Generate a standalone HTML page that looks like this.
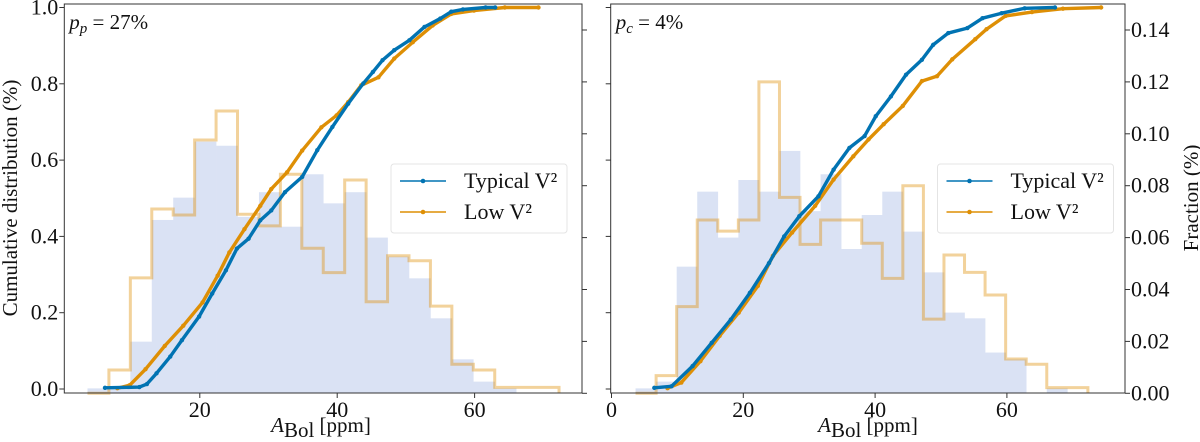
<!DOCTYPE html>
<html><head><meta charset="utf-8">
<style>
body{margin:0;background:#fff;}
svg{display:block;}
svg text{font-family:"Liberation Serif","DejaVu Serif","Times New Roman",serif;}
</style></head>
<body>
<svg id="chart" width="1200" height="442" viewBox="0 0 1200 442"></svg>
<script>
const binStart = 3.65;
const binWidth = 3.12;
const leftTypicalHist = [0.0019,0.0019,0.0199,0.0668,0.0754,0.097,0.0954,0.068,0.0775,0.0642,0.0844,0.0732,0.0775,0.060,0.0527,0.0443,0.0289,0.0131,0.0045,0.0019,0,0];
const leftLowHist = [0,0.009,0.0445,0.071,0.0687,0.0976,0.1088,0.069,0.0645,0.0844,0.0559,0.0465,0.0822,0.0353,0.053,0.0511,0.0336,0.0112,0.009,0.0023,0.0023,0.0023];
const rightTypicalHist = [0.0019,0.0045,0.0488,0.0777,0.060,0.0822,0.0777,0.0934,0.0702,0.0844,0.0556,0.0687,0.0777,0.0623,0.0466,0.0311,0.0289,0.0157,0.0131,0,0.0019,0];
const rightLowHist = [0,0.0068,0.0334,0.0668,0.0625,0.0668,0.120,0.0755,0.0574,0.0668,0.0668,0.0578,0.0443,0.080,0.0286,0.0533,0.0466,0.0379,0.0132,0.0112,0.0022,0.0022];

const leftTypicalX = [6.2,11.2,12.3,13.7,15.7,17.4,19.9,21.8,23.8,25.4,27.1,28.8,30.4,32.4,34.9,37.1,39.3,41.6,43.8,45.2,46.6,48.3,50.5,52.7,55.0,56.6,58.3,61.6,63.0];
const leftTypicalY = [0.003,0.005,0.013,0.041,0.085,0.128,0.19,0.25,0.311,0.368,0.394,0.442,0.468,0.516,0.556,0.626,0.687,0.748,0.801,0.831,0.862,0.888,0.914,0.949,0.971,0.989,0.995,1.0,1.0];
const leftLowX = [8.0,9.8,12.1,14.9,17.6,20.4,22.6,24.3,26.5,28.8,30.4,32.7,34.9,37.7,39.9,41.6,43.5,46.0,48.3,51.0,53.9,56.6,59.9,64.4,69.3];
const leftLowY = [0.002,0.01,0.052,0.113,0.166,0.227,0.297,0.358,0.419,0.48,0.524,0.568,0.625,0.686,0.717,0.752,0.796,0.817,0.866,0.909,0.953,0.983,0.992,1.0,1.0];
const rightTypicalX = [6.5,9.1,12.3,15.2,18.1,21.0,23.9,26.2,28.5,31.4,33.7,36.1,38.4,40.1,42.4,44.7,47.1,48.8,51.1,54.0,56.3,59.2,62.7,67.3];
const rightTypicalY = [0.003,0.007,0.06,0.121,0.182,0.252,0.33,0.4,0.453,0.505,0.575,0.632,0.663,0.715,0.767,0.824,0.863,0.902,0.933,0.946,0.972,0.985,0.998,1.0];
const rightLowX = [8.5,10.6,13.5,16.4,19.3,22.2,24.5,27.4,30.9,33.7,36.7,39.0,41.3,44.2,47.1,49.4,51.7,55.2,56.9,59.8,63.8,68.5,74.3];
const rightLowY = [0.002,0.017,0.073,0.139,0.2,0.27,0.349,0.41,0.48,0.549,0.61,0.654,0.694,0.742,0.807,0.82,0.864,0.917,0.943,0.978,0.988,0.997,1.0];

const xTicks = [20,40,60];
const xTicksRight = [0,20,40,60];
const cdfTicks = [0.0,0.2,0.4,0.6,0.8,1.0];
const fracTicks = [0.00,0.02,0.04,0.06,0.08,0.10,0.12,0.14];

const NS = "http://www.w3.org/2000/svg";
const FONT = '"Liberation Serif","DejaVu Serif",serif';
const svg = document.getElementById('chart');
const BLUE = "#0173b2", ORANGE = "#de8f05";
function mk(tag, attrs, parent){const e=document.createElementNS(NS,tag);for(const k in attrs)e.setAttribute(k,attrs[k]);if(tag==='text')e.setAttribute('font-family',FONT);(parent||svg).appendChild(e);return e;}

function panel(p){
  const g = mk('g',{});
  
  
  const X = v => p.x0 + v*p.xs;
  const Yc = v => 389 - v*381.5;
  const Yf = v => 393.3 - v/0.02*51.9;
  p.typ.forEach((h,i)=>{
    if(h<=0) return;
    const r = mk('rect',{x:X(binStart+i*binWidth),y:Yf(h),width:binWidth*p.xs+0.3,height:Yf(0)-Yf(h),fill:"#dae2f4"},g);
    
    
  });
  let d = `M${X(binStart)},${Yf(0)}`;
  p.low.forEach((h,i)=>{ d += ` L${X(binStart+i*binWidth)},${Yf(h)} L${X(binStart+(i+1)*binWidth)},${Yf(h)}`; });
  d += ` L${X(binStart+p.low.length*binWidth)},${Yf(0)}`;
  const st = mk('path',{d:d,fill:"none",stroke:ORANGE,"stroke-opacity":0.4,"stroke-width":3},g);
  
  
  [[p.lx,p.ly,ORANGE,'low-v2-cdf'],[p.tx,p.ty,BLUE,'typical-v2-cdf']].forEach(([xs,ys,c,n])=>{
    const pts = xs.map((v,i)=>X(v)+','+Yc(ys[i])).join(' ');
    const pl = mk('polyline',{points:pts,fill:"none",stroke:c,"stroke-width":3.4,"stroke-linejoin":"round"},g);
    
    
    xs.forEach((v,i)=>{
      const m = mk('circle',{cx:X(v),cy:Yc(ys[i]),r:2.2,fill:c},g);
      
      
    });
  });
  const fr = mk('rect',{x:p.L,y:4,width:p.R-p.L,height:389,fill:"none",stroke:"#333","stroke-width":1},g);
  
  
  p.xt.forEach(t=>{
    mk('line',{x1:X(t),x2:X(t),y1:393,y2:398,stroke:"#333"},g);
    const tx = mk('text',{x:X(t),y:417,"text-anchor":"middle","font-size":22,fill:"#111"},g);
    tx.textContent = t;
    
    
  });
  cdfTicks.forEach(t=>{
    mk('line',{x1:p.L-5,x2:p.L,y1:Yc(t),y2:Yc(t),stroke:"#333"},g);
    if(p.showCdf){
      const tx = mk('text',{x:p.L-6,y:Yc(t)+7,"text-anchor":"end","font-size":22,fill:"#111"},g);
      tx.textContent = t.toFixed(1);
      
      
    }
  });
  fracTicks.forEach(t=>{
    mk('line',{x1:p.R,x2:p.R+5,y1:Yf(t),y2:Yf(t),stroke:"#333"},g);
    if(p.showFrac){
      const tx = mk('text',{x:p.R+6,y:Yf(t)+7,"font-size":22,fill:"#111"},g);
      tx.textContent = t.toFixed(2);
      
      
    }
  });
  const xl = mk('text',{x:p.xlc,y:432,"text-anchor":"middle","font-size":21,fill:"#111"},g);
  xl.innerHTML = '<tspan font-style="italic">A</tspan><tspan dy="5">Bol</tspan><tspan dy="-5"> [ppm]</tspan>';
  
  
  const an = mk('text',{x:p.L+5,y:29,"font-size":21,fill:"#111"},g);
  an.innerHTML = `<tspan font-style="italic">p</tspan><tspan font-style="italic" font-size="15" dy="4">${p.sub}</tspan><tspan dy="-4"> = ${p.pct}</tspan>`;
  
  
  const lg = mk('g',{},g);
  
  
  mk('rect',{x:p.lgx,y:164,width:176,height:69,rx:3,fill:"#fff","fill-opacity":0.85,stroke:"#e4e4e4"},lg);
  [['Typical V²',BLUE,181],['Low V²',ORANGE,212]].forEach(([lab,c,y])=>{
    const e = mk('g',{},lg);
    
    
    mk('line',{x1:p.lgx+9,x2:p.lgx+55,y1:y,y2:y,stroke:c,"stroke-width":1.5},e);
    mk('circle',{cx:p.lgx+32,cy:y,r:2.3,fill:c},e);
    const t = mk('text',{x:p.lgx+73,y:y+7,"font-size":22,fill:"#111"},e);
    t.textContent = lab;
  });
}

panel({name:'left-panel',L:64.3,R:582,x0:62.4,xs:6.87,typ:leftTypicalHist,low:leftLowHist,tx:leftTypicalX,ty:leftTypicalY,lx:leftLowX,ly:leftLowY,xt:xTicks,showCdf:true,showFrac:false,sub:'p',pct:'27%',lgx:391,xlc:321});
panel({name:'right-panel',L:610.7,R:1125,x0:611.5,xs:6.59,typ:rightTypicalHist,low:rightLowHist,tx:rightTypicalX,ty:rightTypicalY,lx:rightLowX,ly:rightLowY,xt:xTicksRight,showCdf:false,showFrac:true,sub:'c',pct:'4%',lgx:937.5,xlc:868});

const yl = mk('text',{x:0,y:0,transform:"translate(17,198) rotate(-90)","text-anchor":"middle","font-size":21,fill:"#111"});
yl.textContent = 'Cumulative distribution (%)';


const yr = mk('text',{x:0,y:0,transform:"translate(1198,198) rotate(-90)","text-anchor":"middle","font-size":21,fill:"#111"});
yr.textContent = 'Fraction (%)';


</script>
</body></html>
